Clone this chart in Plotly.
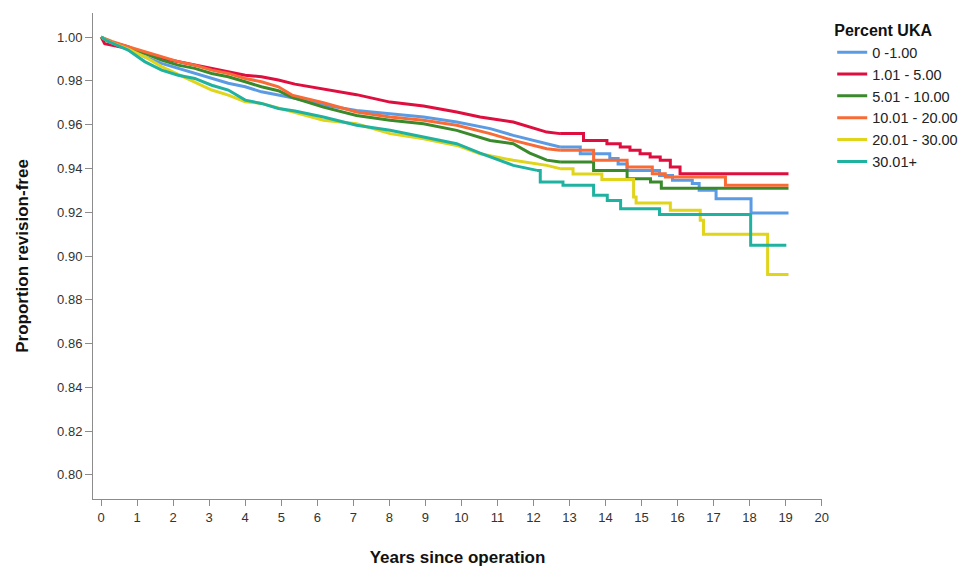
import plotly.graph_objects as go

# Legend labels
groups = ["0 -1.00", "1.01 - 5.00", "5.01 - 10.00", "10.01 - 20.00", "20.01 - 30.00", "30.01+"]
colors = ["#5B9BE3", "#DE0F3F", "#3A8A2C", "#F86B36", "#E0D51B", "#20B2A0"]

# Kaplan-Meier data (years, proportion revision-free)
t_blue = [0, 0.2, 0.75, 1.21, 1.68, 2.14, 2.6, 3.07, 3.53, 4.0, 4.45, 4.92, 5.38, 6.17, 7.09, 8.02, 8.95, 9.87, 10.8, 11.44, 12.37, 12.74, 13.3, 14.12, 14.35, 14.6, 15.5, 15.86, 16.41, 16.6, 17.07, 18.04, 19.08]
v_blue = [1.0, 0.998, 0.9956, 0.991, 0.988, 0.9857, 0.9834, 0.9811, 0.9789, 0.9773, 0.975, 0.9735, 0.972, 0.969, 0.9665, 0.965, 0.9635, 0.9612, 0.9582, 0.9551, 0.9513, 0.9498, 0.9467, 0.9445, 0.942, 0.9391, 0.9368, 0.9346, 0.9331, 0.930, 0.9262, 0.9196, 0.9196]

t_red = [0, 0.1, 0.75, 1.21, 1.68, 2.14, 2.6, 3.07, 3.53, 4.0, 4.45, 4.92, 5.38, 6.17, 7.09, 8.02, 8.95, 9.87, 10.52, 11.44, 12.37, 12.74, 13.39, 14.04, 14.41, 14.68, 14.96, 15.24, 15.52, 15.8, 16.07, 19.08]
v_red = [1.0, 0.997, 0.9948, 0.993, 0.9903, 0.9888, 0.9872, 0.9857, 0.9842, 0.9826, 0.9819, 0.9804, 0.9785, 0.9764, 0.9737, 0.9703, 0.9685, 0.9658, 0.9635, 0.9612, 0.9566, 0.9559, 0.9528, 0.9513, 0.9498, 0.9483, 0.9467, 0.9452, 0.9437, 0.9406, 0.9376, 0.9376]

t_green = [0, 0.2, 0.75, 1.21, 1.68, 2.14, 2.6, 3.07, 3.53, 4.0, 4.45, 4.92, 5.3, 6.17, 7.09, 8.02, 8.95, 9.87, 10.8, 11.44, 11.9, 12.37, 12.74, 13.67, 14.6, 15.25, 15.55, 19.08]
v_green = [1.0, 0.998, 0.9955, 0.9926, 0.9895, 0.9872, 0.9857, 0.9834, 0.9819, 0.9796, 0.9773, 0.9755, 0.9725, 0.968, 0.9642, 0.962, 0.9604, 0.9574, 0.9528, 0.9513, 0.947, 0.9438, 0.9429, 0.9391, 0.9353, 0.9338, 0.931, 0.931]

t_orange = [0, 0.3, 0.75, 1.21, 1.68, 2.14, 2.6, 3.07, 3.53, 4.0, 4.45, 4.92, 5.3, 6.17, 7.09, 8.02, 8.95, 9.87, 10.8, 11.44, 12.37, 12.74, 13.67, 14.6, 15.3, 15.66, 17.33, 19.08]
v_orange = [1.0, 0.998, 0.9956, 0.9933, 0.991, 0.9888, 0.9872, 0.9849, 0.9834, 0.9811, 0.9796, 0.9773, 0.9735, 0.970, 0.9658, 0.9635, 0.962, 0.9597, 0.9559, 0.9528, 0.949, 0.9483, 0.9437, 0.9406, 0.9376, 0.9361, 0.9323, 0.9323]

t_yellow = [0, 0.2, 0.75, 1.21, 1.68, 2.14, 2.6, 3.07, 3.53, 4.0, 4.45, 5.3, 6.17, 7.09, 8.02, 8.95, 9.87, 10.52, 11.44, 12.37, 12.74, 13.1, 13.9, 14.78, 14.85, 15.8, 16.63, 16.72, 18.5, 19.08]
v_yellow = [1.0, 0.998, 0.9945, 0.991, 0.9865, 0.983, 0.9796, 0.9758, 0.9735, 0.9705, 0.9697, 0.966, 0.962, 0.9604, 0.9559, 0.9536, 0.9505, 0.9467, 0.9437, 0.9414, 0.9399, 0.9375, 0.935, 0.9269, 0.9242, 0.9209, 0.9163, 0.9099, 0.8916, 0.8916]

t_teal = [0, 0.2, 0.75, 1.21, 1.68, 2.14, 2.6, 3.07, 3.53, 4.0, 4.45, 4.92, 5.38, 6.17, 7.09, 8.02, 8.95, 9.87, 10.52, 11.44, 12.1, 12.19, 12.82, 13.67, 14.05, 14.42, 15.5, 18.03, 19.02]
v_teal = [1.0, 0.998, 0.9941, 0.9888, 0.9849, 0.9826, 0.9811, 0.978, 0.9758, 0.9712, 0.9697, 0.9674, 0.9662, 0.9635, 0.9597, 0.9574, 0.9544, 0.9513, 0.947, 0.9414, 0.9391, 0.9338, 0.9323, 0.9277, 0.9254, 0.9216, 0.919, 0.9049, 0.9049]

# Year from which the individual KM steps become clearly visible
step_from = [12.74, 12.74, 12.74, 12.74, 12.74, 12.1]

series_t = [t_blue, t_red, t_green, t_orange, t_yellow, t_teal]
series_v = [v_blue, v_red, v_green, v_orange, v_yellow, v_teal]

fig = go.Figure()
for name, col, tt, vv, cut in zip(groups, colors, series_t, series_v, step_from):
    k = max(i for i, t in enumerate(tt) if t <= cut)
    # dense early part: many tiny steps read as a smooth line
    fig.add_trace(go.Scatter(x=tt[:k + 1], y=vv[:k + 1], mode="lines", name=name,
                             legendgroup=name, showlegend=False,
                             line=dict(color=col, width=3, shape="linear")))
    # sparse late part: visible steps
    fig.add_trace(go.Scatter(x=tt[k:], y=vv[k:], mode="lines", name=name,
                             legendgroup=name, showlegend=True,
                             line=dict(color=col, width=3, shape="hv")))

axis_font = dict(family="Arial, Liberation Sans, sans-serif", size=13, color="#333333")
title_font = dict(family="Arial, Liberation Sans, sans-serif", size=17, color="#111111")

fig.update_layout(
    width=978, height=570,
    margin=dict(l=93, r=156, t=13, b=71),
    paper_bgcolor="white", plot_bgcolor="white",
    font=dict(family="Arial, Liberation Sans, sans-serif"),
    showlegend=True,
    legend=dict(
        title=dict(text="<b>Percent UKA</b>", font=dict(size=16, color="#111111")),
        font=dict(size=14.5, color="#222222"),
        x=1.014, y=0.995, xanchor="left", yanchor="top",
        tracegroupgap=0, itemwidth=30,
        bgcolor="rgba(0,0,0,0)",
    ),
    xaxis=dict(
        range=[-0.225, 20.01], dtick=1, tick0=0,
        showgrid=False, zeroline=False,
        showline=True, linecolor="#8c8c8c", linewidth=1,
        ticks="outside", ticklen=6, tickcolor="#8c8c8c",
        tickfont=axis_font,
        title=dict(text="<b>Years since operation</b>", font=title_font, standoff=27),
        automargin=False,
    ),
    yaxis=dict(
        range=[0.789, 1.011], dtick=0.02, tick0=0.8, tickformat=".2f",
        showgrid=False, zeroline=False,
        showline=True, linecolor="#8c8c8c", linewidth=1,
        ticks="outside", ticklen=7, tickcolor="#8c8c8c",
        tickfont=axis_font,
        title=dict(text="<b>Proportion revision-free</b>", font=title_font, standoff=24),
        automargin=False,
    ),
)

fig.write_html("out.html")
